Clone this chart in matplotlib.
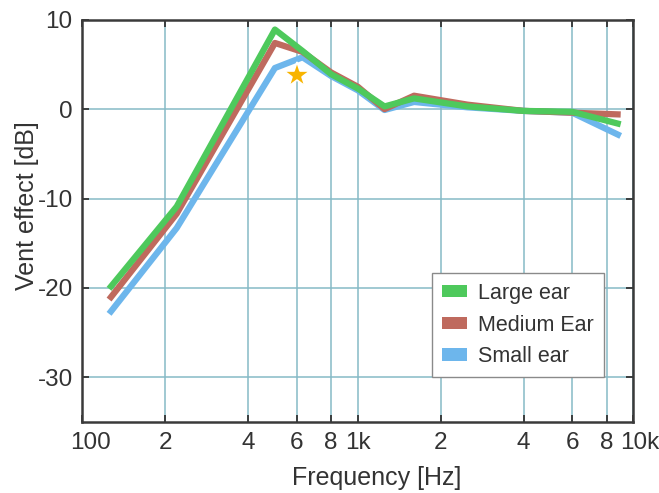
import matplotlib
matplotlib.use("Agg")
import matplotlib.pyplot as plt
from matplotlib.patches import Patch
from matplotlib.ticker import FixedLocator, NullLocator
import matplotlib.transforms as mtransforms

plt.rcParams['font.family'] = ['Liberation Sans', 'DejaVu Sans']

# Measurement frequencies [Hz] and vent effect [dB] per ear size
freqs = [125, 220, 500, 630, 800, 1000, 1250, 1600, 2500, 4000, 6000, 9000]
large_ear = [-20.1, -10.9, 8.9, 6.5, 3.9, 2.3, 0.3, 1.2, 0.3, -0.2, -0.3, -1.7]
medium_ear = [-21.3, -11.7, 7.4, 6.4, 4.1, 2.5, 0.0, 1.5, 0.5, -0.2, -0.4, -0.6]
small_ear = [-22.9, -13.3, 4.6, 5.8, 3.7, 2.1, -0.1, 0.8, 0.2, -0.2, -0.4, -3.0]

series_labels = ["Large ear", "Medium Ear", "Small ear"]
series_colors = ["#4ec95c", "#bf6a5e", "#6db6ec"]

# Highlighted point
star_freq = [600]
star_value = [3.8]

x_ticks = [100, 200, 400, 600, 800, 1000, 2000, 4000, 6000, 8000, 10000]
x_tick_labels = ["100", "2", "4", "6", "8", "1k", "2", "4", "6", "8", "10k"]
y_ticks = [-30, -20, -10, 0, 10]

fig = plt.figure(figsize=(6.59, 4.93), dpi=100)
ax = fig.add_axes([0.125, 0.144, 0.836, 0.816])

grid_color = "#86bac6"
for g in x_ticks:
    ax.axvline(g, color=grid_color, lw=1.1, zorder=0)
for g in y_ticks:
    ax.axhline(g, color=grid_color, lw=1.1, zorder=0)

ax.plot(freqs, small_ear, color=series_colors[2], lw=4.5, solid_capstyle="butt", zorder=2)
ax.plot(freqs, medium_ear, color=series_colors[1], lw=4.5, solid_capstyle="butt", zorder=3)
ax.plot(freqs, large_ear, color=series_colors[0], lw=4.5, solid_capstyle="butt", zorder=4)

ax.plot(star_freq, star_value, marker="*", markersize=19, color="#f8b400",
        markeredgecolor="white", markeredgewidth=1.2, linestyle="none", zorder=5)

ax.set_xscale("log")
ax.set_xlim(100, 10000)
ax.set_ylim(-35, 10)
ax.xaxis.set_major_locator(FixedLocator(x_ticks))
ax.xaxis.set_minor_locator(NullLocator())
ax.set_xticklabels(x_tick_labels)
ax.set_yticks(y_ticks)
ax.set_yticklabels([str(v) for v in y_ticks])

ax.tick_params(axis="both", which="both", direction="in", length=5, width=1.3,
               color="#333333", labelsize=17.5, labelcolor="#333333",
               top=True, right=True, pad=7)

for s in ax.spines.values():
    s.set_color("#3a3a3a")
    s.set_linewidth(1.8)

# Nudge the end labels inward slightly
labels = ax.get_xticklabels()
labels[0].set_transform(labels[0].get_transform() +
                        mtransforms.ScaledTranslation(8 / 100, 0, fig.dpi_scale_trans))
labels[-1].set_transform(labels[-1].get_transform() +
                         mtransforms.ScaledTranslation(6 / 100, 0, fig.dpi_scale_trans))

ax.set_xlabel("Frequency [Hz]", fontsize=18, color="#333333")
ax.set_ylabel("Vent effect [dB]", fontsize=18, color="#333333")
ax.xaxis.set_label_coords(0.535, -0.11)
ax.yaxis.set_label_coords(-0.078, 0.537)

handles = [Patch(facecolor=c, edgecolor="none") for c in series_colors]
leg = ax.legend(handles, series_labels, loc="lower right",
                bbox_to_anchor=(0.946, 0.112), bbox_transform=ax.transAxes,
                borderaxespad=0, fontsize=15.5, fancybox=False, framealpha=1,
                edgecolor="#8a8a8a", handlelength=1.2, handleheight=0.5,
                handletextpad=0.5, labelspacing=0.5, borderpad=0.45)
leg.get_frame().set_linewidth(1.0)
for t in leg.get_texts():
    t.set_color("#333333")

fig.savefig("out.png", dpi=100, facecolor="white")
